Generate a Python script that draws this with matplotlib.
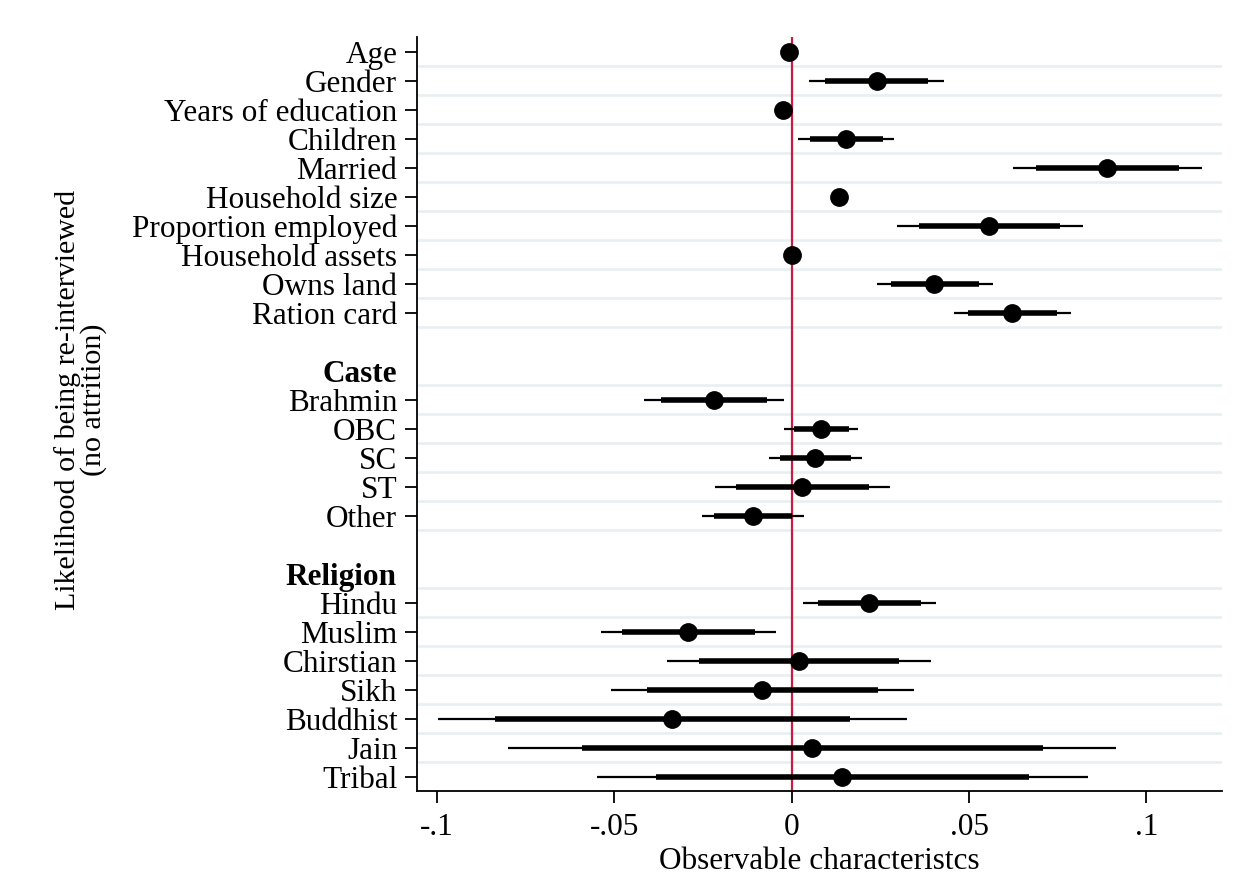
import matplotlib.pyplot as plt
from matplotlib.transforms import blended_transform_factory

plt.rcParams['font.family'] = ['Liberation Serif', 'DejaVu Serif']

# coefficient names, grouped (None = no heading)
groups = [
    (None, ["Age", "Gender", "Years of education", "Children", "Married",
            "Household size", "Proportion employed", "Household assets",
            "Owns land", "Ration card"]),
    ("Caste", ["Brahmin", "OBC", "SC", "ST", "Other"]),
    ("Religion", ["Hindu", "Muslim", "Chirstian", "Sikh", "Buddhist",
                  "Jain", "Tribal"]),
]

coef = [-0.0007, 0.0240, -0.0026, 0.0152, 0.0890, 0.0133, 0.0557, 0.0000,
        0.0402, 0.0622,
        -0.0219, 0.0082, 0.0066, 0.0030, -0.0110,
        0.0218, -0.0294, 0.0021, -0.0083, -0.0337, 0.0056, 0.0142]
inner_lo = [-0.0010, 0.0094, -0.0030, 0.0050, 0.0689, 0.0125, 0.0360, -0.0001,
            0.0279, 0.0498,
            -0.0369, 0.0005, -0.0033, -0.0157, -0.0218,
            0.0075, -0.0479, -0.0261, -0.0407, -0.0837, -0.0592, -0.0384]
inner_hi = [-0.0004, 0.0385, -0.0022, 0.0257, 0.1092, 0.0141, 0.0757, 0.0001,
            0.0528, 0.0747,
            -0.0071, 0.0162, 0.0167, 0.0218, 0.0000,
            0.0363, -0.0105, 0.0303, 0.0243, 0.0165, 0.0707, 0.0668]
outer_lo = [-0.0012, 0.0049, -0.0033, 0.0018, 0.0625, 0.0120, 0.0296, -0.0002,
            0.0240, 0.0458,
            -0.0416, -0.0022, -0.0064, -0.0216, -0.0252,
            0.0031, -0.0539, -0.0352, -0.0510, -0.0997, -0.0799, -0.0550]
outer_hi = [-0.0002, 0.0430, -0.0019, 0.0288, 0.1156, 0.0146, 0.0820, 0.0002,
            0.0567, 0.0787,
            -0.0022, 0.0187, 0.0199, 0.0277, 0.0035,
            0.0408, -0.0045, 0.0393, 0.0345, 0.0324, 0.0913, 0.0834]

xticks = [-0.1, -0.05, 0, 0.05, 0.1]
xticklabels = ["-.1", "-.05", "0", ".05", ".1"]

FS = 22.5

# row positions: a heading takes one row plus a blank row before it
labels, ypos, heads = [], [], []
row = 0
for head, names in groups:
    if head is not None:
        row += 1
        heads.append((head, row))
        row += 1
    for n in names:
        labels.append(n)
        ypos.append(row)
        row += 1

fig = plt.figure(figsize=(12.51, 8.92), dpi=100)
ax = fig.add_axes([0.3333, 0.1132, 0.6435, 0.8453])

# grid lines above and below each coefficient (not on the top edge)
gl = sorted(set([y - 0.5 for y in ypos] + [y + 0.5 for y in ypos]))
for g in gl[1:]:
    ax.axhline(g, color='#e6eff1', lw=1.8, zorder=0)

ax.axvline(0, color='#cc1a40', lw=1.6, zorder=1)

ax.hlines(ypos, outer_lo, outer_hi, color='black', lw=1.6, zorder=2)
ax.hlines(ypos, inner_lo, inner_hi, color='black', lw=4, zorder=3)
ax.plot(coef, ypos, 'o', color='black', ms=12.5, zorder=4)

ax.set_ylim(ypos[-1] + 0.5, -0.5)
ax.set_xlim(-0.1057, 0.1213)
ax.set_yticks(ypos)
ax.set_yticklabels(labels, fontsize=FS)
ax.set_xticks(xticks)
ax.set_xticklabels(xticklabels, fontsize=FS)
ax.tick_params(axis='y', length=8.6, width=1.3, pad=5.5)
ax.tick_params(axis='x', length=8.6, width=1.3, pad=7)

trans = blended_transform_factory(ax.transAxes, ax.transData)
for head, r in heads:
    ax.text(-0.0248, r + 0.12, head, transform=trans, ha='right', va='center',
            fontsize=FS, fontweight='bold')

for s in ['top', 'right']:
    ax.spines[s].set_visible(False)
for s in ['left', 'bottom']:
    ax.spines[s].set_linewidth(1.3)

ax.set_xlabel("Observable characteristcs", fontsize=FS, labelpad=3.5)
ax.set_ylabel("Likelihood of being re-interviewed\n(no attrition)", fontsize=21.6,
              linespacing=0.98)
ax.yaxis.set_label_coords(-0.385, 0.5186)

fig.savefig("out.png", dpi=100)
